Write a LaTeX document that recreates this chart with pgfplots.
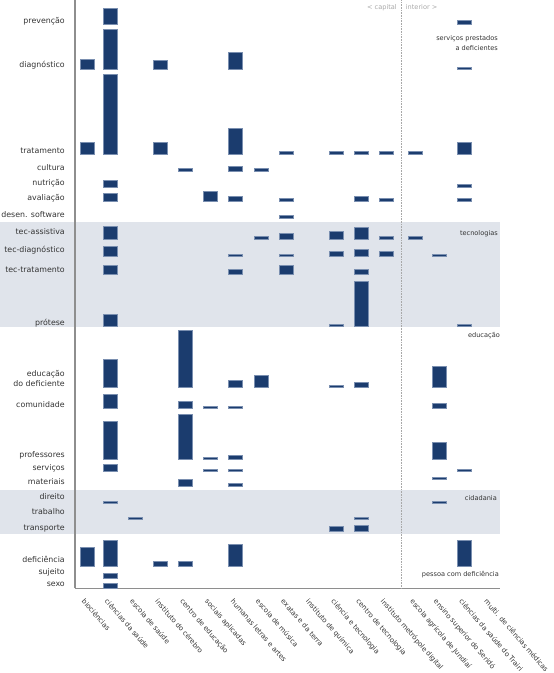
\documentclass[border=0pt]{standalone}
\usepackage{fontspec}
\setmainfont{DejaVu Sans}
\usepackage{pgfplots}
\usepackage{pgfplotstable}
\pgfplotsset{compat=1.18}
\definecolor{barfill}{HTML}{1B3C6E}
\definecolor{barline}{HTML}{7A8FB0}
\definecolor{band}{HTML}{E0E4EB}
\definecolor{axisgray}{HTML}{8E8E8E}
\definecolor{txt}{HTML}{333333}
\definecolor{lightt}{HTML}{A8A8A8}
\pgfdeclareplotmark{nothing}{}

% x = column centre, b = row baseline, h = bar height
\pgfplotstableread{
x b h
86.7 603.7 9.6
86.7 518.7 12
86.7 107 19
109.7 648.5 16.4
109.7 603.7 40
109.7 518.7 80.3
109.7 485.7 7
109.7 472 7.3
109.7 434 12.3
109.7 416.3 10
109.7 398.7 9.3
109.7 346.3 12
109.7 285.7 28.3
109.7 264.3 14.4
109.7 213.7 37.6
109.7 201.3 7
109.7 169.3 2.4
109.7 107 26
109.7 94.7 5
109.7 84.7 4.6
134.8 153.7 2.3
160 603.7 9.3
160 518.7 12
160 107 4.7
185 502 2.7
185 285.7 57
185 264.3 7
185 213.7 45
185 187 7
185 107 4.7
209.7 472 9.7
209.7 264.3 2.4
209.7 213.7 2.3
209.7 201.3 2.4
235.3 603.7 17
235.3 518.7 26.3
235.3 502 5
235.3 472 5
235.3 416.3 2.7
235.3 398.7 4.6
235.3 285.7 7
235.3 264.3 2.4
235.3 213.7 4.3
235.3 201.3 2.4
235.3 187 2.3
235.3 107 21.7
260.7 502 2.7
260.7 434 2.7
260.7 285.7 12
285.7 518.7 2.6
285.7 472 2.3
285.7 455 2.7
285.7 434 5.3
285.7 416.3 2.7
285.7 398.7 9.3
336 518.7 2.6
336 434 7.7
336 416.3 5
336 346.3 2.4
336 285.7 2.3
336 141.7 5
361 518.7 2.6
361 472 4.7
361 434 12
361 416.3 7.4
361 398.7 4.6
361 346.3 45
361 285.7 5
361 153.7 2.3
361 141.7 5.6
385.7 518.7 2.6
385.7 472 2.3
385.7 434 2.7
385.7 416.3 5
415 518.7 2.6
415 434 2.7
438.7 416.3 2.7
438.7 285.7 21.3
438.7 264.3 5
438.7 213.7 17
438.7 193.3 2.4
438.7 169.3 2.4
464 648.5 4.6
464 603.7 2.3
464 518.7 12
464 485.7 2.6
464 472 2.3
464 346.3 2.4
464 201.3 2.4
464 107 26
}\bars

\begin{document}
\begin{tikzpicture}
\begin{axis}[
  x=1bp, y=1bp,
  xmin=75, xmax=500, ymin=84.5, ymax=673,
  at={(75bp,84.5bp)}, anchor=south west,
  axis x line*=bottom, axis y line*=left,
  x axis line style={-, draw=axisgray, line width=1.3bp},
  y axis line style={-, draw=axisgray, line width=1.5bp},
  major tick length=0pt,
  clip=false,
  set layers,
  xtick={86.7,109.7,134.8,160,185,209.7,235.3,260.7,285.7,310.8,336,361,385.7,415,438.7,464,489},
  xticklabels={biociências,ciências da saúde,escola de saúde,instituto do cérebro,centro de educação,sociais aplicadas,humanas letras e artes,escola de música,exatas e da terra,instituto de química,ciência e tecnologia,centro de tecnologia,instituto metrópole digital,escola agrícola de Jundiaí,ensino superior do Seridó,ciências da saúde do Trairi,multi. de ciências médicas},
  xticklabel style={xshift=-1bp, yshift=-9.5bp, rotate=-49, anchor=north west, inner sep=0pt, font=\fontsize{7}{8}\selectfont, text=txt},
  ytick={649.7,605.3,519,502.3,487,472,455.3,438.3,420.3,400.3,347.3,296,286,265.3,215,202,188,173,158,142.7,110.3,98.7,86.3},
  yticklabels={prevenção,diagnóstico,tratamento,cultura,nutrição,avaliação,desen. software,tec-assistiva,tec-diagnóstico,tec-tratamento,prótese,educação,do deficiente,comunidade,professores,serviços,materiais,direito,trabalho,transporte,deficiência,sujeito,sexo},
  yticklabel style={anchor=base east, inner sep=0pt, xshift=-10bp, font=\fontsize{7.9}{9}\selectfont, text=txt},
]
\begin{pgfonlayer}{axis background}
\fill[band] (axis cs:0,346.3) rectangle (axis cs:500,450.7);
\fill[band] (axis cs:0,138.7) rectangle (axis cs:500,183);
\end{pgfonlayer}
\draw[lightt, densely dotted, line width=0.6bp] (axis cs:401.3,84.5) -- (axis cs:401.3,673);

\addplot[only marks, scatter, mark=nothing,
  visualization depends on={\thisrow{h} \as \barh},
  scatter/@pre marker code/.code={%
    \path[fill=barfill, draw=barline, line width=0.4bp] (axis direction cs:-7,0) rectangle (axis direction cs:7,\barh);
  },
  scatter/@post marker code/.code={},
] table[x=x, y=b] {\bars};

\begin{scope}[font=\fontsize{6.6}{10}\selectfont, inner sep=0pt]
\node[anchor=east, text=lightt] at (axis cs:397,665.5) {< capital};
\node[anchor=west, text=lightt] at (axis cs:405.7,665.5) {interior >};
\node[anchor=east, align=right, text=txt] at (axis cs:498,629.7) {serviços prestados\\a deficientes};
\node[anchor=east, text=txt] at (axis cs:498,439.7) {tecnologias};
\node[anchor=east, text=txt] at (axis cs:500,337.3) {educação};
\node[anchor=east, text=txt] at (axis cs:497,175.3) {cidadania};
\node[anchor=east, text=txt] at (axis cs:499,98) {pessoa com deficiência};
\end{scope}
\end{axis}
\pgfresetboundingbox
\path (0,0) rectangle (554bp,673bp);
\end{tikzpicture}
\end{document}
